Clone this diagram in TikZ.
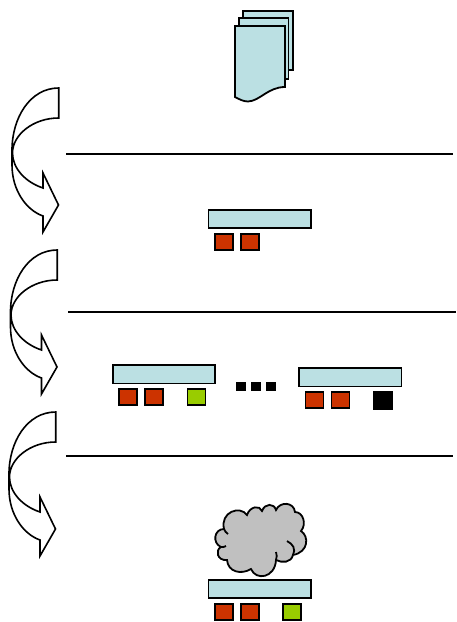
\documentclass[tikz,border=0pt]{standalone}
\definecolor{paleblue}{HTML}{BBE0E3}
\definecolor{brick}{HTML}{CC3300}
\definecolor{leaf}{HTML}{99CC00}
\definecolor{cloudgray}{HTML}{C0C0C0}
\tikzset{
  ink/.style={draw=black,line width=1.8pt,line join=miter},
  bar/.style={ink,fill=paleblue},
  redsq/.style={ink,fill=brick},
  greensq/.style={ink,fill=leaf},
  blacksq/.style={draw=black,line width=0.5pt,fill=black},
  rule/.style={draw=black,line width=1.7pt},
  curvearrow/.style={draw=black,line width=1.6pt,fill=white,line join=miter},
  pics/uturn/.style={code={
    \path[curvearrow]
      (58.7,88) .. controls (30,88) and (12,118) .. (12,150)
      -- (12,165) .. controls (12,190) and (26,210) .. (43,216)
      -- (43,232) -- (58.5,205) -- (43,173) -- (43,188)
      .. controls (25,182) and (12.5,168) .. (12.5,153)
      .. controls (12.5,135) and (33,118) .. (58.7,118) -- cycle;
  }}
}
\begin{document}
\begin{tikzpicture}[x=1pt,y=-1pt]
\useasboundingbox (0,0) rectangle (457,622);
% document stack
\path[bar] (243,11) rectangle (293,70);
\path[bar] (239,18) rectangle (288.5,79);
\path[bar] (235,26) -- (285,26) -- (285,87)
  .. controls (268,87) and (260,101) .. (248,101.5)
  .. controls (243,101.5) and (239,99) .. (235,97) -- cycle;
% rules
\draw[rule] (66,154) -- (453,154);
\draw[rule] (68,312) -- (456,312);
\draw[rule] (66,456) -- (453,456);
% curved arrows
\pic at (0,0) {uturn};
\pic at (-1.5,162) {uturn};
\pic at (-3,324) {uturn};
% row 1
\path[bar] (208.5,210) rectangle (311,228);
\path[redsq] (215,234) rectangle (233,250);
\path[redsq] (241,234) rectangle (259,250);
% row 2 left
\path[bar] (113,365) rectangle (215,383.5);
\path[redsq] (119,389) rectangle (137,405);
\path[redsq] (145,389) rectangle (163,405);
\path[greensq] (187.5,389) rectangle (205.5,405);
% dots
\path[blacksq] (236,382) rectangle (245,390);
\path[blacksq] (251,382) rectangle (260,390);
\path[blacksq] (266,382) rectangle (275,390);
% row 2 right
\path[bar] (299,368) rectangle (401.5,386.5);
\path[redsq] (305.5,392) rectangle (323.5,408);
\path[redsq] (331.5,392) rectangle (349.5,408);
\path[blacksq] (373.5,391) rectangle (392.5,409);
% cloud
\path[ink,fill=cloudgray]
  (224,529) .. controls (220,512) and (240,505) .. (247,515)
  .. controls (250,506) and (260,505) .. (262,511)
  .. controls (265,503) and (274,503) .. (276,510)
  .. controls (280,501) and (294,502) .. (295,512)
  .. controls (303,512) and (307,524) .. (301,531)
  .. controls (309,536) and (309,552) .. (293,555)
  .. controls (291,563) and (282,563) .. (276,560)
  .. controls (275,578) and (256,581) .. (251,569)
  .. controls (241,575) and (228,572) .. (227,560)
  .. controls (217,561) and (215,550) .. (221,547)
  .. controls (212,543) and (214,529) .. (224,529) -- cycle;
\draw[ink] (293,555) .. controls (296,549) and (293,544) .. (287,541);
\draw[ink] (276,560) .. controls (277,557) and (277,555) .. (276,552);
\draw[ink] (224,529) .. controls (225,531) and (226,533) .. (228,534);
\draw[ink] (221,547) .. controls (223,547) and (225,547) .. (226,546);
% row 3
\path[bar] (208.5,580) rectangle (311,598);
\path[redsq] (215,604) rectangle (233,620);
\path[redsq] (241,604) rectangle (259,620);
\path[greensq] (283,604) rectangle (301,620);
\end{tikzpicture}
\end{document}
